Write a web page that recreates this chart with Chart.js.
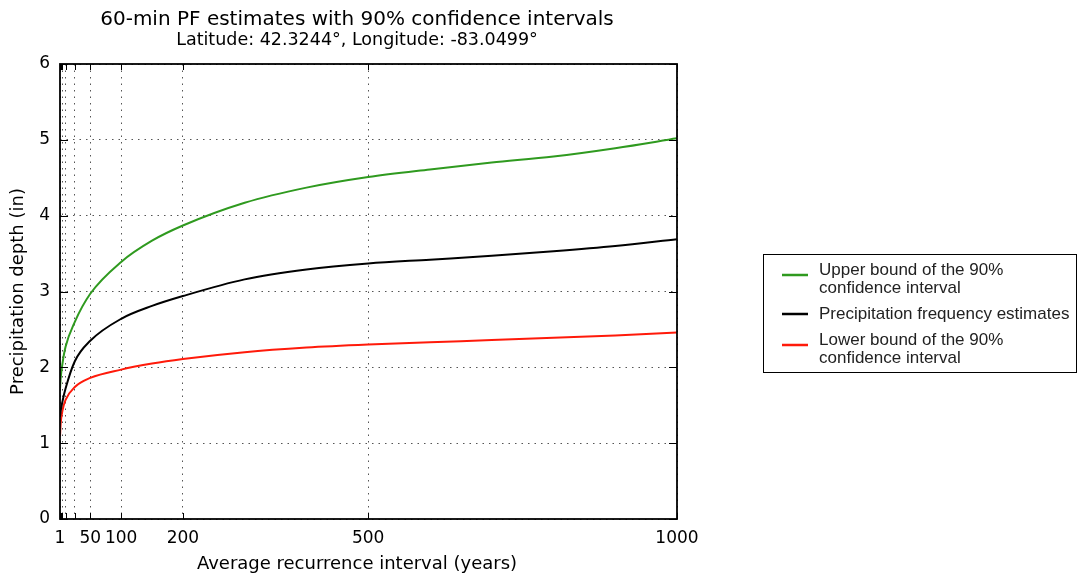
<!DOCTYPE html>
<html>
<head>
<meta charset="utf-8">
<title>60-min PF estimates</title>
<script src="https://cdn.jsdelivr.net/npm/chart.js@4.4.1/dist/chart.umd.min.js"></script>
<style>
    html, body { margin: 0; padding: 0; background: #ffffff; }
    #pfChart { display: block; }
</style>
</head>
<body>
<canvas id="pfChart" width="1078" height="577"></canvas>
<script>
// recurrence intervals (years) and depths (in)
const ari = [1, 2, 5, 10, 25, 50, 100, 150, 200, 300, 400, 500, 600, 700, 800, 900, 1000];
const upperBound = [1.72, 1.85, 2.05, 2.27, 2.60, 2.97, 3.39, 3.67, 3.87, 4.17, 4.37, 4.51, 4.61, 4.70, 4.78, 4.89, 5.02];
const pfEstimate = [1.35, 1.42, 1.55, 1.72, 2.08, 2.35, 2.64, 2.81, 2.94, 3.16, 3.29, 3.37, 3.42, 3.47, 3.53, 3.60, 3.69];
const lowerBound = [1.09, 1.25, 1.43, 1.57, 1.74, 1.86, 1.97, 2.05, 2.11, 2.20, 2.26, 2.30, 2.33, 2.36, 2.39, 2.42, 2.46];

// axis ticks
const gridYears = [1, 2, 5, 10, 25, 50, 100, 200, 500, 1000];
const labelYears = [1, 50, 100, 200, 500, 1000];
const depthTicks = [0, 1, 2, 3, 4, 5, 6];

const titleText = '60-min PF estimates with 90% confidence intervals';
const subtitleText = 'Latitude: 42.3244°, Longitude: -83.0499°';
const xLabel = 'Average recurrence interval (years)';
const yLabel = 'Precipitation depth (in)';

const legendLabels = [
    ['Upper bound of the 90%', 'confidence interval'],
    ['Precipitation frequency estimates'],
    ['Lower bound of the 90%', 'confidence interval'],
];
const lineColors = ['#2f9a1f', '#000000', '#ff1a0a'];
const seriesValues = [upperBound, pfEstimate, lowerBound];

const AXIS_FONT = '"DejaVu Sans", sans-serif';
const LEGEND_FONT = '"Liberation Sans", Arial, sans-serif';
const TEXT_CENTER = 357;

function toPoints(values) {
    return ari.map((year, i) => ({x: year, y: values[i]}));
}

// frame, inward ticks, titles and the boxed legend
const pfDecorations = {
    id: 'pfDecorations',
    afterDraw(chart) {
        const ctx = chart.ctx;
        const area = chart.chartArea;
        const xs = chart.scales.x;
        const ys = chart.scales.y;
        ctx.save();

        // ticks pointing into the plot on all four sides
        ctx.strokeStyle = '#000';
        ctx.lineWidth = 1;
        const tickLen = 6;
        xs.ticks.forEach(t => {
            const px = Math.round(xs.getPixelForValue(t.value)) + 0.5;
            ctx.beginPath();
            ctx.moveTo(px, area.bottom);
            ctx.lineTo(px, area.bottom - tickLen);
            ctx.moveTo(px, area.top);
            ctx.lineTo(px, area.top + tickLen);
            ctx.stroke();
        });
        ys.ticks.forEach(t => {
            const py = Math.round(ys.getPixelForValue(t.value)) + 0.5;
            ctx.beginPath();
            ctx.moveTo(area.left, py);
            ctx.lineTo(area.left + tickLen + 2, py);
            ctx.moveTo(area.right, py);
            ctx.lineTo(area.right - tickLen - 2, py);
            ctx.stroke();
        });

        // plot frame
        ctx.lineWidth = 1.8;
        ctx.strokeStyle = '#000';
        ctx.strokeRect(area.left, area.top, area.right - area.left, area.bottom - area.top);

        // titles
        ctx.fillStyle = '#000';
        ctx.textAlign = 'center';
        ctx.textBaseline = 'middle';
        ctx.font = '20px ' + AXIS_FONT;
        ctx.fillText(titleText, TEXT_CENTER, 20);
        ctx.font = '17.5px ' + AXIS_FONT;
        ctx.fillText(subtitleText, TEXT_CENTER, 40);
        ctx.font = '18px ' + AXIS_FONT;
        ctx.fillText(xLabel, TEXT_CENTER, 564);

        ctx.save();
        ctx.translate(18, (area.top + area.bottom) / 2);
        ctx.rotate(-Math.PI / 2);
        ctx.fillText(yLabel, 0, 0);
        ctx.restore();

        // legend box
        const box = {left: 763, top: 254, width: 313, height: 118};
        ctx.fillStyle = '#fff';
        ctx.fillRect(box.left, box.top, box.width, box.height);
        ctx.lineWidth = 1;
        ctx.strokeStyle = '#000';
        ctx.strokeRect(box.left + 0.5, box.top + 0.5, box.width, box.height);

        ctx.font = '17px ' + LEGEND_FONT;
        ctx.textAlign = 'left';
        let y = box.top + 16;
        chart.data.datasets.forEach(ds => {
            const lines = ds.label;
            const sampleY = lines.length > 1 ? y + 5 : y;
            ctx.strokeStyle = ds.borderColor;
            ctx.lineWidth = 2.5;
            ctx.beginPath();
            ctx.moveTo(782, sampleY);
            ctx.lineTo(808, sampleY);
            ctx.stroke();
            ctx.fillStyle = '#222';
            lines.forEach((line, i) => ctx.fillText(line, 819, y + i * 18));
            y += lines.length * 18 + 8;
        });

        ctx.restore();
    }
};

const datasets = seriesValues.map((values, i) => ({
    label: legendLabels[i],
    data: toPoints(values),
    borderColor: lineColors[i],
    backgroundColor: lineColors[i],
    borderWidth: 2,
    pointRadius: 0,
    cubicInterpolationMode: 'monotone',
    fill: false,
}));

const gridStyle = {
    color: '#555',
    lineWidth: 1,
    drawTicks: false,
};

new Chart(document.getElementById('pfChart'), {
    type: 'line',
    data: {datasets: datasets},
    options: {
        responsive: false,
        animation: false,
        devicePixelRatio: 1,
        layout: {padding: {left: 0, top: 64, right: 401, bottom: 0}},
        plugins: {
            legend: {display: false},
            tooltip: {enabled: false},
            title: {display: false},
        },
        scales: {
            x: {
                type: 'linear',
                min: 1,
                max: 1000,
                afterBuildTicks: scale => {
                    scale.ticks = gridYears.map(v => ({value: v}));
                },
                afterFit: scale => {
                    scale.height = 58;
                },
                ticks: {
                    autoSkip: false,
                    maxRotation: 0,
                    padding: 9,
                    color: '#000',
                    font: {family: AXIS_FONT, size: 17},
                    callback: value => labelYears.includes(value) ? String(value) : '',
                },
                grid: gridStyle,
                border: {display: false, dash: [1.5, 5]},
            },
            y: {
                type: 'linear',
                min: 0,
                max: 6,
                afterBuildTicks: scale => {
                    scale.ticks = depthTicks.map(v => ({value: v}));
                },
                afterFit: scale => {
                    scale.width = 60;
                },
                ticks: {
                    padding: 10,
                    color: '#000',
                    font: {family: AXIS_FONT, size: 17},
                },
                grid: gridStyle,
                border: {display: false, dash: [1.5, 5]},
            },
        },
    },
    plugins: [pfDecorations],
});
</script>
</body>
</html>
